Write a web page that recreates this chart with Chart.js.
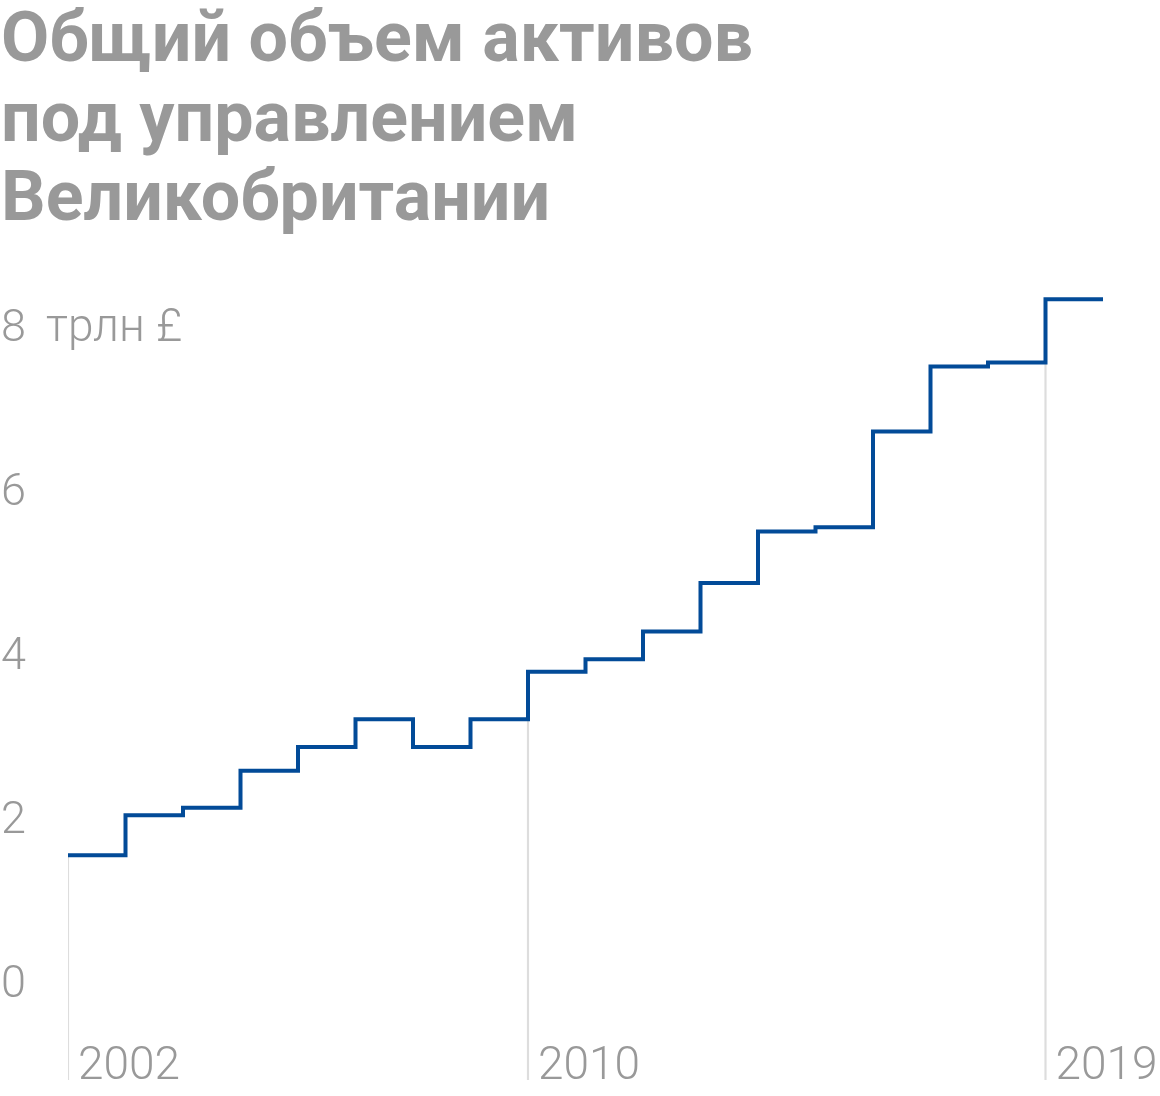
<!DOCTYPE html>
<html>
<head>
<meta charset="utf-8">
<script src="https://cdn.jsdelivr.net/npm/chart.js@4/dist/chart.umd.min.js"></script>
<style>
  html, body { margin: 0; padding: 0; background: #fff; }
  #wrap { width: 1160px; height: 1096px; }
</style>
</head>
<body>
<div id="wrap"><canvas id="assets-chart"></canvas></div>
<script>
// UK assets under management, trillion GBP
const years = [2002, 2003, 2004, 2005, 2006, 2007, 2008, 2009, 2010,
  2011, 2012, 2013, 2014, 2015, 2016, 2017, 2018, 2019];
const assets = [1.59, 2.08, 2.17, 2.62, 2.91, 3.25, 2.91, 3.25, 3.83,
  3.98, 4.32, 4.91, 5.54, 5.59, 6.76, 7.55, 7.60, 8.37];
const labelYears = [2002, 2010, 2019];
const yTickValues = [0, 2, 4, 6, 8];
const unitLabel = "трлн £";
const titleLines = ["Общий объем активов", "под управлением", "Великобритании"];

const GREY = "#999999";
const BLUE = "#024b98";

// stepped line needs the end of the last year
const linePoints = years.map((y, i) => ({ x: y, y: assets[i] }));
linePoints.push({ x: years[years.length - 1] + 1, y: assets[assets.length - 1] });

// thin drop lines under the labelled years
const dropLines = labelYears.map((y) => ({ x: y, y: [-1.2, assets[years.indexOf(y)]] }));

// year labels sit right of their drop line, unit sits next to the top tick
const extraLabels = {
  id: "extraLabels",
  afterDatasetsDraw(chart) {
    const { ctx, chartArea, scales } = chart;
    ctx.save();
    ctx.font = "300 46px Roboto";
    ctx.fillStyle = GREY;
    ctx.textAlign = "left";
    ctx.textBaseline = "alphabetic";
    labelYears.forEach((y) => {
      ctx.fillText(String(y), scales.x.getPixelForValue(y) + 10, chartArea.bottom - 1);
    });
    ctx.textBaseline = "middle";
    const top = yTickValues[yTickValues.length - 1];
    ctx.fillText(unitLabel, 46, scales.y.getPixelForValue(top));
    ctx.restore();
  },
};

const ctx = document.getElementById("assets-chart").getContext("2d");
new Chart(ctx, {
  data: {
    datasets: [
      {
        type: "line",
        data: linePoints,
        stepped: true,
        borderColor: BLUE,
        borderWidth: 4,
        pointRadius: 0,
        fill: false,
        order: 1,
      },
      {
        type: "bar",
        data: dropLines,
        backgroundColor: "#dddddd",
        barThickness: 1.5,
        order: 2,
      },
    ],
  },
  options: {
    responsive: true,
    maintainAspectRatio: false,
    animation: false,
    layout: { padding: { left: 1, right: 57, top: 0, bottom: 16 } },
    plugins: {
      legend: { display: false },
      tooltip: { enabled: false },
      title: {
        display: true,
        text: titleLines,
        align: "start",
        color: GREY,
        font: { family: "Roboto", weight: "bold", size: 70, lineHeight: 1.136 },
        padding: { top: 4, bottom: 44.5 },
      },
    },
    scales: {
      x: {
        type: "linear",
        min: 2002,
        max: 2020,
        offset: false,
        display: false,
      },
      y: {
        min: -1.15,
        max: 8.52,
        border: { display: false },
        grid: { display: false },
        afterBuildTicks: (scale) => {
          scale.ticks = yTickValues.map((v) => ({ value: v }));
        },
        afterFit: (scale) => {
          scale.width = 67;
          scale.paddingTop = 0;
          scale.paddingBottom = 0;
        },
        ticks: {
          crossAlign: "far",
          color: GREY,
          font: { family: "Roboto", weight: "300", size: 45 },
        },
      },
    },
  },
  plugins: [extraLabels],
});
</script>
</body>
</html>
